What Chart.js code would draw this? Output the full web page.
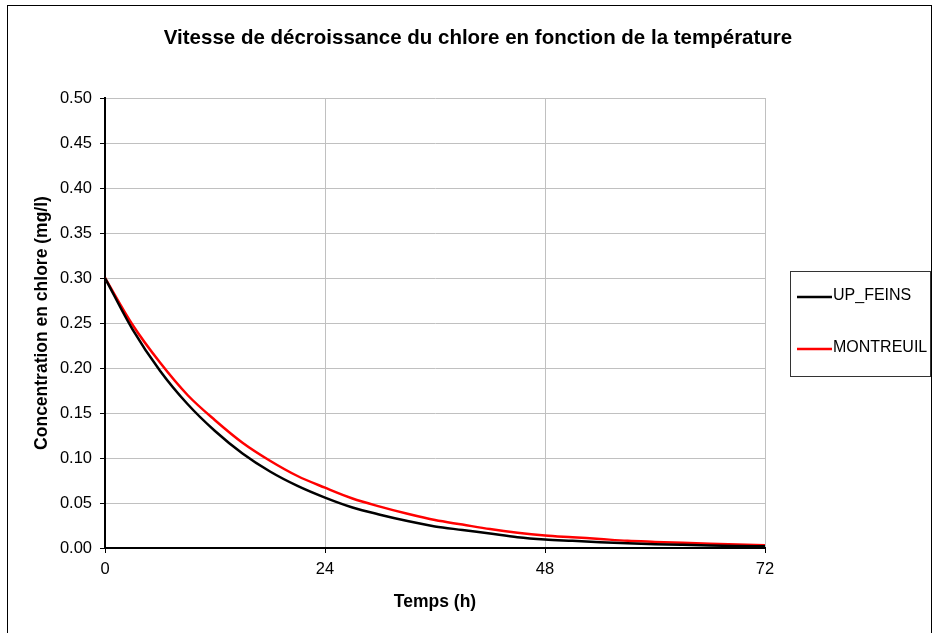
<!DOCTYPE html>
<html>
<head>
<meta charset="utf-8">
<script src="https://cdn.jsdelivr.net/npm/chart.js@4.4.1/dist/chart.umd.min.js"></script>
<style>
  body { margin: 0; background: #fff; }
  canvas { display: block; }
</style>
</head>
<body>
<canvas id="chloreChart" width="932" height="633"></canvas>
<script>
// values
const hours = [0, 3, 6, 9, 12, 15, 18, 21, 24, 27, 30, 33, 36, 39, 42, 45, 48, 51, 54, 57, 60, 63, 66, 69, 72];
const upFeins = [0.300, 0.243, 0.197, 0.160, 0.130, 0.105, 0.085, 0.069, 0.056, 0.045, 0.037, 0.030, 0.024, 0.020, 0.016, 0.012, 0.0095, 0.008, 0.0065, 0.0053, 0.0043, 0.0035, 0.0028, 0.0023, 0.0019];
const montreuil = [0.300, 0.248, 0.206, 0.170, 0.142, 0.117, 0.097, 0.080, 0.067, 0.055, 0.046, 0.038, 0.031, 0.026, 0.021, 0.017, 0.014, 0.012, 0.010, 0.008, 0.0068, 0.0057, 0.0047, 0.0038, 0.0030];
const seriesNames = ['UP_FEINS', 'MONTREUIL'];
const seriesColors = ['#000000', '#ff0000'];
const xTicks = [0, 24, 48, 72];

const chartTitle = 'Vitesse de décroissance du chlore en fonction de la température';
const fontFamily = 'Arial, "Liberation Sans", sans-serif';

function toPoints(ys) {
    return hours.map((h, i) => ({ x: h, y: ys[i] }));
}

// title, legend box and outer frame (Excel style)
const excelFrame = {
    id: 'excelFrame',
    beforeDraw(chart) {
        const c = chart.ctx;
        c.save();
        c.fillStyle = '#fff';
        c.fillRect(0, 0, chart.width, chart.height);
        c.restore();
    },
    afterDraw(chart) {
        const c = chart.ctx;
        c.save();
        // outer border
        c.strokeStyle = '#000';
        c.lineWidth = 1;
        c.strokeRect(7.5, 5.5, 924, 700);

        // title
        c.fillStyle = '#000';
        c.font = 'bold 20.5px ' + fontFamily;
        c.textAlign = 'center';
        c.textBaseline = 'middle';
        c.fillText(chartTitle, 478, 38);

        // legend
        c.fillStyle = '#fff';
        c.fillRect(790, 271, 141, 105);
        c.strokeStyle = '#333';
        c.strokeRect(790.5, 271.5, 140, 105);
        c.font = '16px ' + fontFamily;
        c.textAlign = 'left';
        const rows = [297, 349];
        chart.data.datasets.forEach((ds, i) => {
            c.strokeStyle = ds.borderColor;
            c.lineWidth = 2.5;
            c.beginPath();
            c.moveTo(797, rows[i]);
            c.lineTo(832, rows[i]);
            c.stroke();
            c.fillStyle = '#000';
            c.fillText(ds.label, 833, rows[i] - 1);
        });
        c.restore();
    }
};

const ctx = document.getElementById('chloreChart').getContext('2d');
new Chart(ctx, {
    type: 'line',
    data: {
        datasets: [{
            label: seriesNames[0],
            data: toPoints(upFeins),
            borderColor: seriesColors[0],
            borderWidth: 2.5,
            pointRadius: 0,
            cubicInterpolationMode: 'monotone',
            fill: false
        }, {
            label: seriesNames[1],
            data: toPoints(montreuil),
            borderColor: seriesColors[1],
            borderWidth: 2.5,
            pointRadius: 0,
            cubicInterpolationMode: 'monotone',
            fill: false
        }]
    },
    options: {
        responsive: false,
        animation: false,
        layout: {
            padding: { left: 8, top: 98, right: 167, bottom: 0 }
        },
        plugins: {
            legend: { display: false },
            title: { display: false },
            tooltip: { enabled: false }
        },
        scales: {
            x: {
                type: 'linear',
                min: 0,
                max: 72,
                afterBuildTicks: (scale) => {
                    scale.ticks = xTicks.map(v => ({ value: v }));
                },
                afterFit: (scale) => { scale.height = 85; },
                grid: {
                    color: '#c0c0c0',
                    tickColor: '#000',
                    tickLength: 5
                },
                border: { color: '#000', width: 2 },
                ticks: {
                    color: '#000',
                    padding: 7,
                    maxRotation: 0,
                    font: { family: fontFamily, size: 16.5 }
                },
                title: {
                    display: true,
                    text: 'Temps (h)',
                    color: '#000',
                    padding: { top: 0, bottom: 20.5 },
                    font: { family: fontFamily, size: 17.5, weight: 'bold' }
                }
            },
            y: {
                min: 0,
                max: 0.5,
                afterFit: (scale) => { scale.width = 97; },
                grid: {
                    color: '#c0c0c0',
                    tickColor: '#000',
                    tickLength: 5
                },
                border: { color: '#000', width: 2 },
                ticks: {
                    stepSize: 0.05,
                    color: '#000',
                    padding: 8,
                    font: { family: fontFamily, size: 16.5 },
                    callback: (v) => v.toFixed(2)
                },
                title: {
                    display: true,
                    text: 'Concentration en chlore (mg/l)',
                    color: '#000',
                    padding: { top: 23.5, bottom: 0 },
                    font: { family: fontFamily, size: 17.5, weight: 'bold' }
                }
            }
        }
    },
    plugins: [excelFrame]
});
</script>
</body>
</html>
